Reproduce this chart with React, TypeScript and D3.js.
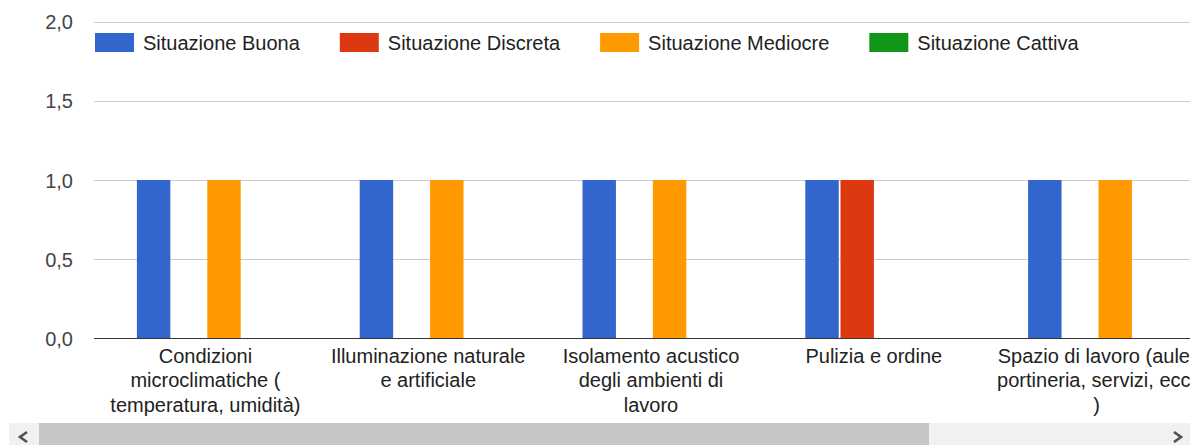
import React, { useRef, useEffect } from 'react';
import * as d3 from 'd3';

const categories = [
  'Condizioni microclimatiche ( temperatura, umidità)',
  'Illuminazione naturale e artificiale',
  'Isolamento acustico degli ambienti di lavoro',
  'Pulizia e ordine',
  'Spazio di lavoro (aule, portineria, servizi, ecc. )'
];
// how the axis wraps each label
const categoryLines = [
  ['Condizioni', 'microclimatiche (', 'temperatura, umidità)'],
  ['Illuminazione naturale', 'e artificiale'],
  ['Isolamento acustico', 'degli ambienti di', 'lavoro'],
  ['Pulizia e ordine'],
  ['Spazio di lavoro (aule,', 'portineria, servizi, ecc.', ')']
];
const seriesNames = ['Situazione Buona', 'Situazione Discreta', 'Situazione Mediocre', 'Situazione Cattiva'];
const seriesColors = ['#3366cc', '#dc3912', '#ff9900', '#109618'];
const buona = [1, 1, 1, 1, 1];
const discreta = [0, 0, 0, 1, 0];
const mediocre = [1, 1, 1, 0, 1];
const cattiva = [0, 0, 0, 0, 0];
const yTicks = [0, 0.5, 1, 1.5, 2];

const FONT = '"Liberation Sans", Arial, sans-serif';

const draw = (svgEl) => {
  const svg = d3.select(svgEl);
  svg.selectAll('*').remove();

  const values = [buona, discreta, mediocre, cattiva];
  const rows = categories.map((c, i) => ({
    category: c,
    vals: seriesNames.map((s, j) => ({ series: s, value: values[j][i], color: seriesColors[j] }))
  }));

  const left = 94;
  const step = 222.8;
  const x0 = d3.scaleBand().domain(categories).range([left, left + step * categories.length]);
  const x1 = d3.scaleBand().domain(seriesNames).range([-68.5, 70.5]).paddingInner(0.05);
  const y = d3.scaleLinear().domain([0, 2]).range([338.5, 21.5]);

  const it = d3.formatLocale({ decimal: ',', thousands: '.', grouping: [3], currency: ['€', ''] });
  const fmt = it.format('.1f');

  svg.append('defs').append('clipPath').attr('id', 'view')
    .append('rect').attr('x', 9).attr('y', 0).attr('width', 1181).attr('height', 423);

  const g = svg.append('g').attr('clip-path', 'url(#view)').style('font-family', FONT);

  // gridlines + tick labels
  const plotRight = x0.range()[1];
  g.selectAll('line.grid').data(yTicks.filter((t) => t > 0)).enter().append('line')
    .attr('x1', left).attr('x2', plotRight)
    .attr('y1', (d) => Math.round(y(d)) + 0.5).attr('y2', (d) => Math.round(y(d)) + 0.5)
    .attr('stroke', '#cccccc');

  g.selectAll('text.tick').data(yTicks).enter().append('text')
    .attr('x', 73).attr('y', (d) => y(d) + 7.5)
    .attr('text-anchor', 'end').attr('font-size', 20).attr('fill', '#444')
    .text((d) => fmt(d));

  // bars
  const grp = g.selectAll('g.cat').data(rows).enter().append('g')
    .attr('transform', (d) => `translate(${x0(d.category) + x0.bandwidth() / 2},0)`);
  grp.selectAll('rect').data((d) => d.vals.filter((v) => v.value > 0)).enter().append('rect')
    .attr('x', (d) => x1(d.series))
    .attr('width', x1.bandwidth())
    .attr('y', (d) => y(d.value))
    .attr('height', (d) => y(0) - y(d.value))
    .attr('fill', (d) => d.color);

  // baseline
  g.append('line').attr('x1', left).attr('x2', plotRight)
    .attr('y1', y(0)).attr('y2', y(0)).attr('stroke', '#333').attr('stroke-width', 1.2);

  // category labels
  grp.append('text')
    .attr('text-anchor', 'middle').attr('font-size', 20).attr('fill', '#222')
    .selectAll('tspan').data((d, i) => categoryLines[i]).enter().append('tspan')
    .attr('x', 0).attr('y', (d, i) => 362.5 + i * 24.7)
    .text((d) => d);

  // legend
  let lx = 95;
  seriesNames.forEach((s, i) => {
    g.append('rect').attr('x', lx).attr('y', 33).attr('width', 39).attr('height', 19)
      .attr('fill', seriesColors[i]);
    const t = g.append('text').attr('x', lx + 48).attr('y', 49.5)
      .attr('font-size', 20).attr('fill', '#222').text(s);
    lx = lx + 48 + t.node().getComputedTextLength() + 40;
  });

  // horizontal scrollbar of the chart container
  const sb = svg.append('g');
  sb.append('rect').attr('x', 9).attr('y', 423).attr('width', 1181).attr('height', 22).attr('fill', '#f1f1f1');
  sb.append('rect').attr('x', 39).attr('y', 423).attr('width', 890).attr('height', 22).attr('fill', '#c6c6c6');
  sb.append('path').attr('d', 'M27,432 L20,437 L27,442').attr('fill', 'none')
    .attr('stroke', '#505050').attr('stroke-width', 2.6);
  sb.append('path').attr('d', 'M1174,432 L1181,437 L1174,442').attr('fill', 'none')
    .attr('stroke', '#505050').attr('stroke-width', 2.6);
};

export default function App() {
  const ref = useRef(null);
  useEffect(() => {
    if (ref.current) draw(ref.current);
  }, []);
  return (
    <svg
      ref={ref}
      width={1194}
      height={445}
      style={{ position: 'absolute', left: 0, top: 0, background: '#fff' }}
    />
  );
}
